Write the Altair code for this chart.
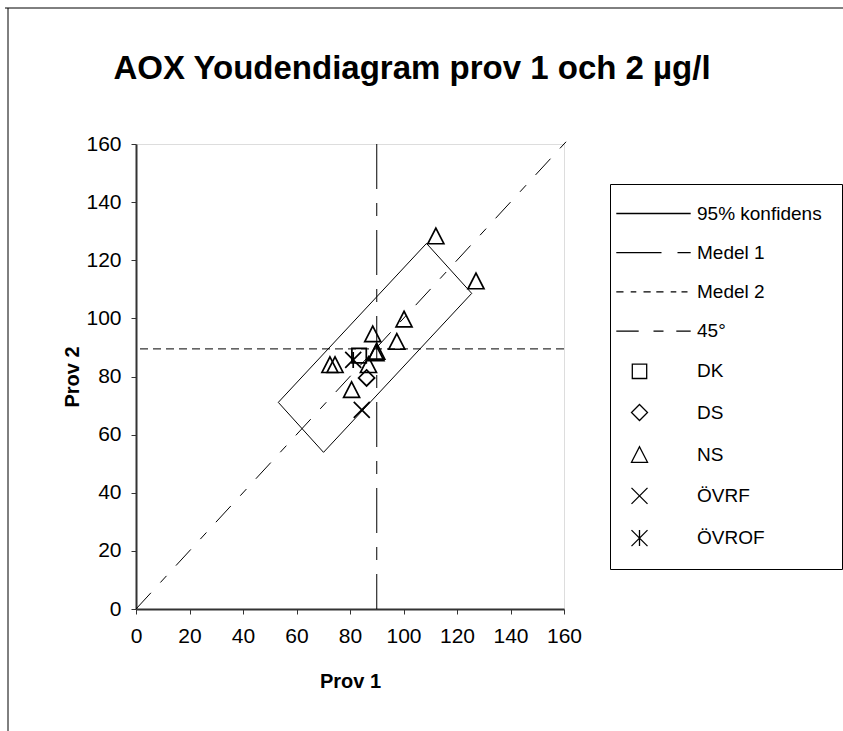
import altair as alt
import pandas as pd

# ---- values ----
ns_x = [112.1, 127.1, 100.2, 88.5, 97.5, 90.0, 89.7, 72.5, 74.4, 80.6, 86.9]
ns_y = [128.3, 112.8, 99.7, 94.6, 92.0, 88.6, 88.1, 84.0, 84.0, 75.4, 84.0]
dk_x = [83.4]
dk_y = [87.2]
ds_x = [86.2]
ds_y = [79.5]
ovrf_x = [84.4]
ovrf_y = [68.5]
ovrof_x = [81.2]
ovrof_y = [85.7]

conf_x = [53.2, 108.6, 125.5, 70.1, 53.2]
conf_y = [71.1, 125.8, 108.6, 53.9, 71.1]
medel1 = 90.0
medel2 = 89.5
diag = [0, 161]

ticks = [0, 20, 40, 60, 80, 100, 120, 140, 160]

legend_labels = ["95% konfidens", "Medel 1", "Medel 2", "45°",
                 "DK", "DS", "NS", "ÖVRF", "ÖVROF"]
legend_symbols = [
    "M-2.9,0H6.4",
    "M-2.9,0H2.75M4.75,0H6.4",
    "M-2.9,0H-2M-1.1,0H-0.4M0.5,0H1.4M2.1,0H3M3.9,0H4.6M5.25,0H6",
    "M-2.9,0H-0.1M1.75,0H3M4.6,0H6.4",
    "M-0.9,-0.9H0.9V0.9H-0.9Z",
    "M0,-1L1,0L0,1L-1,0Z",
    "M0,-1L1,0.95L-1,0.95Z",
    "M-1,-1L1,1M1,-1L-1,1",
    "M-1,-1L1,1M1,-1L-1,1M0,-1V1",
]

# ---- tables ----
pts = pd.DataFrame({
    "x": ns_x + dk_x + ds_x + ovrf_x + ovrof_x,
    "y": ns_y + dk_y + ds_y + ovrf_y + ovrof_y,
    "serie": ["NS"] * len(ns_x) + ["DK"] * len(dk_x) + ["DS"] * len(ds_x)
             + ["ÖVRF"] * len(ovrf_x) + ["ÖVROF"] * len(ovrof_x),
})
conf = pd.DataFrame({"x": conf_x, "y": conf_y, "i": list(range(len(conf_x)))})
diag_df = pd.DataFrame({"x": diag, "y": diag})
m1 = pd.DataFrame({"x": [medel1]})
m2 = pd.DataFrame({"y": [medel2]})
one = pd.DataFrame({"k": [0]})

FONT = "Liberation Sans"

xenc = alt.X("x:Q", scale=alt.Scale(domain=[0, 160], nice=False, zero=False),
             axis=alt.Axis(values=ticks, title="Prov 1", grid=False, tickSize=5,
                           labelFontSize=21, titleFontSize=20, titleFontWeight="bold",
                           labelPadding=11, titlePadding=25,
                           domainColor="#333333", domainWidth=2, tickColor="#333333",
                           labelColor="black", titleColor="black",
                           labelFont=FONT, titleFont=FONT, labelFlush=False))
yenc = alt.Y("y:Q", scale=alt.Scale(domain=[0, 160], nice=False, zero=False),
             axis=alt.Axis(values=ticks, title="Prov 2", grid=False, tickSize=5,
                           labelFontSize=21, titleFontSize=20, titleFontWeight="bold",
                           labelPadding=10, titlePadding=3,
                           domainColor="#333333", domainWidth=2, tickColor="#333333",
                           labelColor="black", titleColor="black",
                           labelFont=FONT, titleFont=FONT, labelFlush=False))

conf_layer = alt.Chart(conf).mark_line(color="black", strokeWidth=1).encode(
    x=xenc, y=yenc, order="i:Q")
diag_layer = alt.Chart(diag_df).mark_line(color="black", strokeWidth=1,
                                          strokeDash=[22, 14, 9, 14]).encode(x=xenc, y=yenc)
m1_layer = alt.Chart(m1).mark_rule(color="black", strokeWidth=1,
                                   strokeDash=[45, 14, 13, 14]).encode(x=xenc)
m2_layer = alt.Chart(m2).mark_rule(color="black", strokeWidth=1,
                                   strokeDash=[8, 5]).encode(y=yenc)

pt_layer = alt.Chart(pts).mark_point(filled=False, size=256, strokeWidth=1.7,
                                     color="black", opacity=1).encode(
    x=xenc, y=yenc,
    shape=alt.Shape("serie:N",
                    scale=alt.Scale(domain=legend_labels, range=legend_symbols),
                    legend=alt.Legend(title=None, orient="none", legendX=474, legendY=40,
                                      padding=20, strokeColor="black", fillColor="white",
                                      symbolSize=256, symbolStrokeWidth=1.3,
                                      symbolStrokeColor="black",
                                      labelFontSize=19, labelFont=FONT, labelColor="black",
                                      labelOffset=48, rowPadding=19.2, labelLimit=300)))

frame_left = alt.Chart(one).mark_rule(color="black", strokeWidth=1).encode(
    x=alt.value(-128), y=alt.value(-136), y2=alt.value(600))
frame_top = alt.Chart(one).mark_rule(color="black", strokeWidth=1).encode(
    x=alt.value(-131), x2=alt.value(720), y=alt.value(-136))

chart = alt.layer(frame_left, frame_top, conf_layer, m1_layer, m2_layer, diag_layer, pt_layer).properties(
    width=428, height=465,
    title=alt.TitleParams(text="AOX Youdendiagram prov 1 och 2 µg/l", fontSize=33, font=FONT,
                          fontWeight="bold", anchor="middle", dx=62, offset=-78, color="black"),
    autosize=alt.AutoSizeParams(type="none"),
    padding={"left": 136, "top": 144, "right": 279, "bottom": 122},
).configure_view(stroke="#8a8a8a", strokeWidth=1.5).configure(background="white")

chart.save("out.html", embed_options={"renderer": "svg", "actions": False})
